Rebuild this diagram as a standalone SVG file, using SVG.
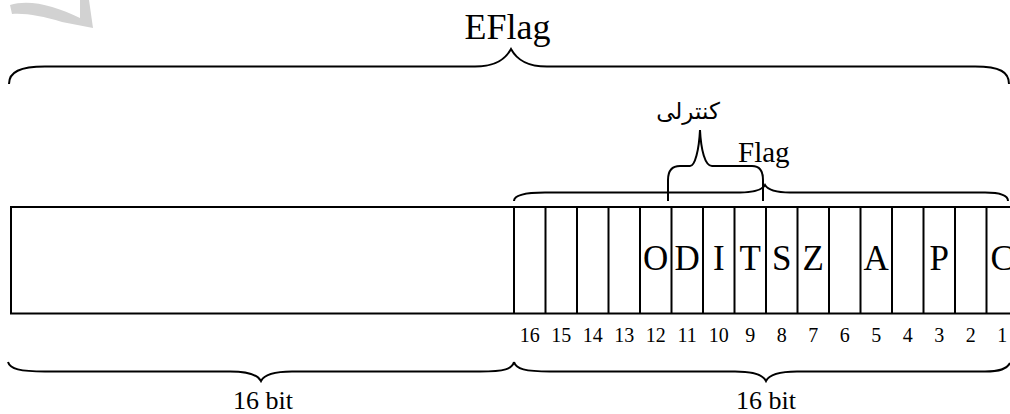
<svg xmlns="http://www.w3.org/2000/svg" width="1010" height="414" viewBox="0 0 1010 414">
<style>
.ln{fill:none;stroke:#000;stroke-width:2}
.br{fill:none;stroke:#000;stroke-width:2}
.t{font-family:"Liberation Serif","Times New Roman",serif;fill:#000}
.let{font-family:"Liberation Serif","Times New Roman",serif;font-size:35px;text-anchor:middle}
.num{font-family:"Liberation Serif","Times New Roman",serif;font-size:20px;text-anchor:middle}
.lab{font-family:"Liberation Serif","Times New Roman",serif;font-size:26px;text-anchor:middle}
.fa{font-family:"DejaVu Sans","Noto Sans",sans-serif;font-size:23px;text-anchor:middle;fill:#000}
</style>
<rect width="1010" height="414" fill="#fff"/>
<path d="M10,5 C30,-1 55,6 80,18 L80,0 L89,0 L93,28 L62,22 C42,16 26,13 12,14 Z" fill="#d2d2d2"/>
<g id="register">
<rect class="ln" x="11" y="207" width="1005" height="106.5"/>
<path class="ln" d="M514,207V313.5M545.5,207V313.5M577,207V313.5M608.5,207V313.5M640,207V313.5M671.5,207V313.5M703,207V313.5M734.5,207V313.5M766,207V313.5M797.5,207V313.5M829,207V313.5M860.5,207V313.5M892,207V313.5M923.5,207V313.5M955,207V313.5M986.5,207V313.5"/>
<g class="let">
<text x="655.75" y="270">O</text>
<text x="687.25" y="270">D</text>
<text x="718.75" y="270">I</text>
<text x="750.25" y="270">T</text>
<text x="781.75" y="270">S</text>
<text x="813.25" y="270">Z</text>
<text x="876.25" y="270">A</text>
<text x="939.25" y="270">P</text>
<text x="1002.25" y="270">C</text>
</g>
<g class="num">
<text x="529.75" y="342">16</text>
<text x="561.25" y="342">15</text>
<text x="592.75" y="342">14</text>
<text x="624.25" y="342">13</text>
<text x="655.75" y="342">12</text>
<text x="687.25" y="342">11</text>
<text x="718.75" y="342">10</text>
<text x="750.25" y="342">9</text>
<text x="781.75" y="342">8</text>
<text x="813.25" y="342">7</text>
<text x="844.75" y="342">6</text>
<text x="876.25" y="342">5</text>
<text x="907.75" y="342">4</text>
<text x="939.25" y="342">3</text>
<text x="970.75" y="342">2</text>
<text x="1002.25" y="342">1</text>
</g>
</g>
<g id="braces">
<path class="br" d="M9,84 C9,72 20,66.5 45,66.5 L475,66.5 C495,66.5 505,60 511,49 C517,60 527,66.5 547,66.5 L975,66.5 C1000,66.5 1009,72 1009,84"/>
<path class="br" d="M514,201 C514,195 525,192.5 545,192.5 L740,192.5 C755,192.5 762,190 765,185 C768,190 775,192.5 790,192.5 L985,192.5 C1000,192.5 1008,195 1008,201"/>
<path class="br" d="M668,201 L668,180 C668,170 672,166 680,166 L690,166 C695,166 699,150 700,130 C701,150 705,166 712,166 L752,166 C759,166 763,170 763,180 L763,201"/>
<path class="br" d="M8,362 C10,369 20,371.5 45,371.5 L230,371.5 C250,371.5 258,375 261,381 C264,375 272,371.5 292,371.5 L480,371.5 C505,371.5 512,369 514,362"/>
<path class="br" d="M514,362 C516,369 525,371.5 550,371.5 L735,371.5 C755,371.5 763,375 766,381 C769,375 777,371.5 797,371.5 L985,371.5 C1000,371.5 1007,369 1010,363"/>
</g>
<g id="labels">
<text class="t" x="507.5" y="38.5" style="font-size:36px;text-anchor:middle">EFlag</text>
<text class="t" x="738" y="162" style="font-size:29px">Flag</text>
<text class="fa" x="688" y="119" direction="rtl">کنترلی</text>
<text class="lab" x="263" y="409">16 bit</text>
<text class="lab" x="766" y="409">16 bit</text>
</g>
</svg>
